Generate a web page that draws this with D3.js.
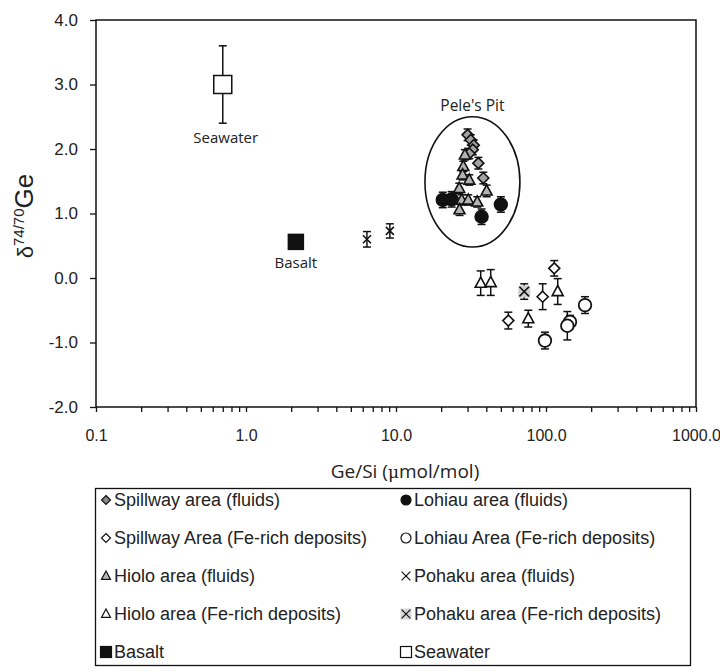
<!DOCTYPE html>
<html>
<head>
<meta charset="utf-8">
<script src="https://cdn.jsdelivr.net/npm/d3@7/dist/d3.min.js"></script>
<style>
body { margin: 0; background: #fff; }
text { font-family: "Liberation Sans", Arial, sans-serif; fill: #222; }
</style>
</head>
<body>
<div id="chart"></div>
<script>
// each point: [Ge/Si, d74/70Ge, error]
const spillwayFluids = [[30, 2.22, 0.09], [31.5, 2.14, 0.08], [33, 2.06, 0.08], [32.5, 1.99, 0.08], [30.8, 1.93, 0.08], [35.4, 1.78, 0.09], [38.2, 1.55, 0.09]];
const spillwayFe = [[113.5, 0.15, 0.12], [95, -0.29, 0.2], [56.1, -0.66, 0.13]];
const hioloFluids = [[28.8, 1.91, 0.08], [28.1, 1.73, 0.08], [27.8, 1.60, 0.08], [30.8, 1.52, 0.08], [26.4, 1.39, 0.08], [40.2, 1.35, 0.09], [27.4, 1.21, 0.08], [30.3, 1.21, 0.08], [34.8, 1.18, 0.08], [26.5, 1.06, 0.09]];
const hioloFe = [[36.7, -0.08, 0.19], [42.8, -0.07, 0.2], [119.7, -0.21, 0.2], [76.2, -0.63, 0.13]];
const lohiauFluids = [[20.5, 1.21, 0.12], [23.5, 1.22, 0.12], [37.2, 0.95, 0.12], [50, 1.14, 0.12]];
const lohiauFe = [[182, -0.42, 0.13], [144.5, -0.68, 0.1], [138.7, -0.74, 0.22], [98.4, -0.97, 0.13]];
const pohakuFluids = [[6.4, 0.60, 0.12], [9.1, 0.73, 0.11]];
const pohakuFe = [[71.6, -0.21, 0.12]];
const basalt = [[2.15, 0.56, 0]];
const seawater = [[0.70, 3.0, 0.6]];

const yTicks = [-2, -1, 0, 1, 2, 3, 4];
const xDecades = [0.1, 1, 10, 100, 1000];
const legendLabels = [
    'Spillway area (fluids)', 'Lohiau area (fluids)',
    'Spillway Area (Fe-rich deposits)', 'Lohiau Area (Fe-rich deposits)',
    'Hiolo area (fluids)', 'Pohaku area (fluids)',
    'Hiolo area (Fe-rich deposits)', 'Pohaku area (Fe-rich deposits)',
    'Basalt', 'Seawater'
];
// Pele's Pit outline in data units
const pelePit = { xMin: 15.6, xMax: 67, yMin: 0.48, yMax: 2.5 };

const width = 720, height = 672;
const margin = { left: 96, right: 24, top: 20, bottom: 265 };

const svg = d3.select('#chart').append('svg')
    .attr('width', width)
    .attr('height', height);

const x = d3.scaleLog().domain([0.1, 1000]).range([margin.left, width - margin.right]);
const y = d3.scaleLinear().domain([-2, 4]).range([height - margin.bottom, margin.top]);

// frame
svg.append('rect')
    .attr('x', x(0.1)).attr('y', y(4))
    .attr('width', x(1000) - x(0.1)).attr('height', y(-2) - y(4))
    .attr('fill', 'none').attr('stroke', '#111').attr('stroke-width', 1.5);

// axes
const minorTicks = [];
[0.1, 1, 10, 100].forEach(d => { for (let k = 1; k <= 9; k++) minorTicks.push(d * k); });
minorTicks.push(1000);

const xAxis = svg.append('g')
    .attr('transform', `translate(0, ${y(-2)})`)
    .call(d3.axisBottom(x).tickValues(minorTicks).tickSize(5)
        .tickFormat(d => xDecades.some(v => Math.abs(v - d) < 1e-9) ? d.toFixed(1) : ''));
xAxis.select('.domain').remove();
xAxis.selectAll('line').attr('stroke', '#111').attr('stroke-width', 1.3);
xAxis.selectAll('text').attr('font-size', 16).attr('y', 23);

const yAxis = svg.append('g')
    .attr('transform', `translate(${x(0.1)}, 0)`)
    .call(d3.axisLeft(y).tickValues(yTicks).tickSize(6).tickFormat(d => d.toFixed(1)));
yAxis.select('.domain').remove();
yAxis.selectAll('line').attr('stroke', '#111').attr('stroke-width', 1.3);
yAxis.selectAll('text').attr('font-size', 17).attr('x', -18);

// axis titles
const xTitle = svg.append('text')
    .attr('x', (x(0.1) + x(1000)) / 2 + 9)
    .attr('y', 478)
    .attr('text-anchor', 'middle')
    .attr('font-size', 19)
    .style('font-family', '"Open Sans", sans-serif');
xTitle.append('tspan').text('Ge/Si (');
xTitle.append('tspan').style('font-family', '"DejaVu Serif", serif').attr('font-size', 17).text('μ');
xTitle.append('tspan').text('mol/mol)');

const yTitle = svg.append('text')
    .attr('transform', 'translate(33, 216) rotate(-90)')
    .attr('text-anchor', 'middle');
yTitle.append('tspan').attr('font-size', 22).text('δ');
yTitle.append('tspan').attr('font-size', 15).attr('dy', -9).text('74/70');
yTitle.append('tspan').attr('font-size', 26).attr('dy', 9).text('Ge');

// marker shapes
function marker(g, type, s, fill) {
    if (type === 'diamond') {
        g.append('path').attr('d', `M0,${-s}L${s},0L0,${s}L${-s},0Z`)
            .attr('fill', fill).attr('stroke', '#111').attr('stroke-width', 1.6);
    } else if (type === 'triangle') {
        g.append('path').attr('d', `M0,${-s * 1.1}L${s},${s * 0.75}L${-s},${s * 0.75}Z`)
            .attr('fill', fill).attr('stroke', '#111').attr('stroke-width', 1.6);
    } else if (type === 'circle') {
        g.append('circle').attr('r', s)
            .attr('fill', fill).attr('stroke', '#111').attr('stroke-width', 1.8);
    } else if (type === 'square') {
        g.append('rect').attr('x', -s).attr('y', -s).attr('width', 2 * s).attr('height', 2 * s)
            .attr('fill', fill).attr('stroke', '#111').attr('stroke-width', 1.5);
    } else if (type === 'cross') {
        if (fill !== 'none') {
            g.append('rect').attr('x', -s).attr('y', -s).attr('width', 2 * s).attr('height', 2 * s)
                .attr('fill', fill);
        }
        g.append('path').attr('d', `M${-s * 0.8},${-s * 0.8}L${s * 0.8},${s * 0.8}M${s * 0.8},${-s * 0.8}L${-s * 0.8},${s * 0.8}`)
            .attr('stroke', '#111').attr('stroke-width', 1.6);
    }
}

const series = [
    { data: spillwayFluids, type: 'diamond', fill: '#a3a3a3', size: 5.5 },
    { data: spillwayFe, type: 'diamond', fill: '#fff', size: 5.5 },
    { data: hioloFluids, type: 'triangle', fill: '#b3b3b3', size: 5.5 },
    { data: hioloFe, type: 'triangle', fill: '#fff', size: 5.5 },
    { data: lohiauFluids, type: 'circle', fill: '#111', size: 6.3 },
    { data: lohiauFe, type: 'circle', fill: '#fff', size: 6.3 },
    { data: pohakuFluids, type: 'cross', fill: 'none', size: 5 },
    { data: pohakuFe, type: 'cross', fill: '#cfcfcf', size: 6 },
    { data: basalt, type: 'square', fill: '#111', size: 7.5 },
    { data: seawater, type: 'square', fill: '#fff', size: 9 }
];

// error bars
series.forEach(s => {
    s.data.filter(d => d[2] > 0).forEach(d => {
        const cx = x(d[0]), y1 = y(d[1] + d[2]), y2 = y(d[1] - d[2]);
        const g = svg.append('g').attr('stroke', '#111').attr('stroke-width', 1.5);
        g.append('line').attr('x1', cx).attr('x2', cx).attr('y1', y1).attr('y2', y2);
        g.append('line').attr('x1', cx - 4).attr('x2', cx + 4).attr('y1', y1).attr('y2', y1);
        g.append('line').attr('x1', cx - 4).attr('x2', cx + 4).attr('y1', y2).attr('y2', y2);
    });
});

series.forEach(s => {
    s.data.forEach(d => {
        const g = svg.append('g').attr('transform', `translate(${x(d[0])}, ${y(d[1])})`);
        marker(g, s.type, s.size, s.fill);
    });
});

// Pele's Pit ellipse
svg.append('ellipse')
    .attr('cx', (x(pelePit.xMin) + x(pelePit.xMax)) / 2)
    .attr('cy', (y(pelePit.yMin) + y(pelePit.yMax)) / 2)
    .attr('rx', (x(pelePit.xMax) - x(pelePit.xMin)) / 2)
    .attr('ry', (y(pelePit.yMin) - y(pelePit.yMax)) / 2)
    .attr('fill', 'none').attr('stroke', '#111').attr('stroke-width', 1.6);

// annotations
const note = (txt, px, py, fs) => svg.append('text')
    .attr('x', px).attr('y', py)
    .attr('text-anchor', 'middle')
    .attr('font-size', fs)
    .style('font-family', '"Open Sans", sans-serif')
    .text(txt);
note("Pele's Pit", (x(pelePit.xMin) + x(pelePit.xMax)) / 2, y(pelePit.yMax) - 6, 15.5);
note('Seawater', x(seawater[0][0]) + 3, y(seawater[0][1] - seawater[0][2]) + 20, 15);
note('Basalt', x(basalt[0][0]), y(basalt[0][1]) + 26, 15);

// legend
const legend = svg.append('g');
legend.append('rect')
    .attr('x', 95.5).attr('y', 488.5).attr('width', 595).attr('height', 177)
    .attr('fill', 'none').attr('stroke', '#111').attr('stroke-width', 1.3);

const legendMarks = [
    ['diamond', '#888', 4.5], ['circle', '#111', 5],
    ['diamond', '#fff', 4.5], ['circle', '#fff', 5],
    ['triangle', '#bbb', 4.5], ['cross', 'none', 5.5],
    ['triangle', '#fff', 4.5], ['cross', '#d6d6d6', 5.5],
    ['square', '#111', 5.5], ['square', '#fff', 5.5]
];
legendLabels.forEach((lab, i) => {
    const col = i % 2, row = Math.floor(i / 2);
    const lx = col === 0 ? 106 : 406, ly = 500 + row * 38;
    const g = legend.append('g').attr('transform', `translate(${lx}, ${ly})`);
    const m = legendMarks[i];
    marker(g, m[0], m[2], m[1]);
    g.selectAll('path, circle, rect').attr('stroke-width', 1.2);
    legend.append('text')
        .attr('x', lx + 8).attr('y', ly)
        .attr('dy', '0.36em')
        .attr('font-size', 18)
        .text(lab);
});
</script>
</body>
</html>
